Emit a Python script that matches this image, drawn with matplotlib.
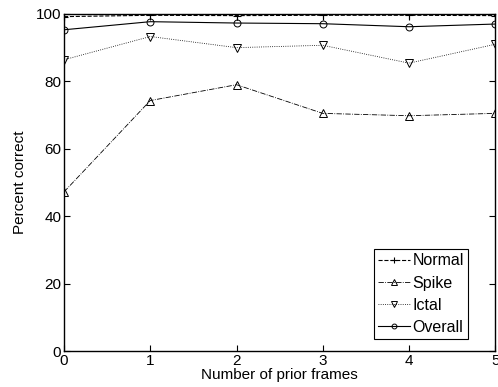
import matplotlib
matplotlib.use('Agg')
import matplotlib.pyplot as plt

plt.rcParams['font.family'] = ['Liberation Sans', 'DejaVu Sans']

frames = [0, 1, 2, 3, 4, 5]
normal = [99.2, 99.6, 99.5, 99.6, 99.6, 99.5]
spike = [47.2, 74.3, 79.0, 70.5, 69.8, 70.5]
ictal = [86.4, 93.3, 90.0, 90.7, 85.4, 91.0]
overall = [95.3, 97.7, 97.3, 97.1, 96.2, 97.0]

fig = plt.figure(figsize=(4.98, 3.87), dpi=100)
ax = fig.add_axes([0.1285, 0.093, 0.866, 0.871])

ax.plot(frames, normal, color='black', ls='--', lw=0.8, marker='+', ms=6, mew=0.8, label='Normal')
ax.plot(frames, spike, color='black', ls='-.', lw=0.6, marker='^', ms=6, mew=0.7, mfc='none', label='Spike')
ax.plot(frames, ictal, color='black', ls=':', lw=0.6, marker='v', ms=6, mew=0.7, mfc='none', label='Ictal')
ax.plot(frames, overall, color='black', ls='-', lw=0.8, marker='o', ms=5, mew=0.7, mfc='none', label='Overall')

ax.set_xlim(0, 5)
ax.set_ylim(0, 100)
ax.set_xticks(frames)
ax.set_yticks([0, 20, 40, 60, 80, 100])
ax.tick_params(direction='in', top=True, right=True, labelsize=11, length=4, width=0.8, pad=2)
for s in ax.spines.values():
    s.set_linewidth(1.0)

ax.set_xlabel('Number of prior frames', fontsize=11, labelpad=0)
ax.set_ylabel('Percent correct', fontsize=11, labelpad=6)

leg = ax.legend(loc='lower right', bbox_to_anchor=(0.937, 0.036), fontsize=11.5,
                fancybox=False, framealpha=1, edgecolor='black', handlelength=2.0,
                handletextpad=0.2, borderpad=0.25, labelspacing=0.45,
                borderaxespad=0, markerscale=0.7)
leg.get_frame().set_linewidth(0.8)

fig.savefig('out.png', dpi=100)
